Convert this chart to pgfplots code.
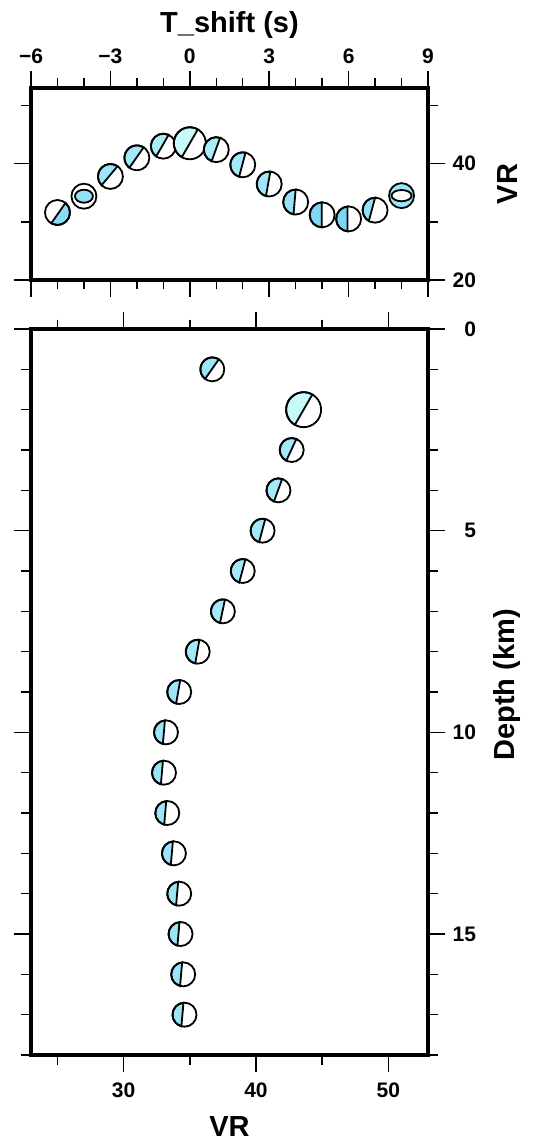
\documentclass[border=0pt]{standalone}
\usepackage{pgfplots}
\pgfplotsset{compat=1.18}
\usepackage{pgfplotstable}
\usepackage{fontspec}
\setmainfont{Liberation Sans}
\definecolor{bblight}{RGB}{200,250,252}
\definecolor{bbsat}{RGB}{110,208,244}

\pgfdeclareplotmark{bb}{%
  \pgfsetlinewidth{0.9pt}%
  \pgfsetstrokecolor{black}%
  \colorlet{bbfill}{bbsat!\bbc!bblight}%
  \pgfpathcircle{\pgfpointorigin}{\pgfplotmarksize}%
  \ifdim\bbt pt>1.5pt
    \pgfsetfillcolor{bbfill}%
  \else
    \pgfsetfillcolor{white}%
  \fi
  \pgfusepath{fill}%
  \ifdim\bbt pt<0.5pt
    \pgfmathsetmacro\bbs{\bbphi-\bbalpha}%
    \pgfmathsetmacro\bbe{\bbphi+\bbalpha}%
    \pgfpathmoveto{\pgfpointpolar{\bbs}{\pgfplotmarksize}}%
    \pgfpatharc{\bbs}{\bbe}{\pgfplotmarksize}%
    \pgfpathclose
    \pgfsetfillcolor{bbfill}%
    \pgfusepath{fill,stroke}%
  \else
    \ifdim\bbt pt<1.5pt
      \pgfsetfillcolor{bbfill}%
      \pgfpathellipse{\pgfpointorigin}{\pgfpoint{0.72\pgfplotmarksize}{0pt}}{\pgfpoint{0pt}{0.52\pgfplotmarksize}}%
      \pgfusepath{fill,stroke}%
    \else
      \pgfsetfillcolor{white}%
      \pgfpathellipse{\pgfpointorigin}{\pgfpoint{0.8\pgfplotmarksize}{0pt}}{\pgfpoint{0pt}{0.45\pgfplotmarksize}}%
      \pgfusepath{fill,stroke}%
    \fi
  \fi
  \pgfpathcircle{\pgfpointorigin}{\pgfplotmarksize}%
  \pgfusepath{stroke}%
}

% T_shift, VR, radius(pt), phi, alpha, colour, type
\pgfplotstableread{
x y r phi alpha c t
-5 31.6 6.25 -35 85 70 0
-4 34.4 6.25 0 90 60 1
-3 37.8 6.25 140 85 50 0
-2 41.0 6.25 145 88 40 0
-1 43.0 6.25 150 85 35 0
0 43.5 8.0 150 90 0 0
1 42.4 6.25 160 88 35 0
2 39.8 6.25 165 88 40 0
3 36.5 6.25 170 85 45 0
4 33.4 6.25 175 85 55 0
5 31.2 6.25 180 88 80 0
6 30.5 6.25 180 85 85 0
7 32.0 6.25 165 75 60 0
8 34.5 6.25 0 90 50 2
}\toptab

% VR, depth, radius(pt), phi, alpha, colour, type
\pgfplotstableread{
x y r phi alpha c t
36.7 1 6.0 145 88 50 0
43.6 2 8.75 150 90 0 0
42.7 3 6.0 155 88 40 0
41.7 4 6.0 160 88 40 0
40.5 5 6.0 165 88 40 0
39.0 6 6.0 165 88 40 0
37.5 7 6.0 168 88 40 0
35.6 8 6.0 170 88 40 0
34.2 9 6.0 170 85 45 0
33.2 10 6.0 175 80 50 0
33.05 11 6.0 175 80 50 0
33.3 12 6.0 175 80 50 0
33.8 13 6.0 175 80 50 0
34.2 14 6.0 175 80 50 0
34.3 15 6.0 175 80 50 0
34.5 16 6.0 175 80 50 0
34.6 17 6.0 175 80 50 0
}\bottab

\pgfplotsset{
  gmt/.style={
    scale only axis,
    width=198.5pt,
    tick align=outside,
    tick pos=both,
    major tick length=8.5pt,
    minor tick length=4.75pt,
    every tick/.style={black, line width=0.75pt},
    axis line style={line width=1.75pt},
    clip=false,
    /pgf/number format/assume math mode=true,
    every tick label/.append style={font=\fontsize{10.5}{12}\selectfont\bfseries},
    yticklabel style={anchor=east, xshift=19pt},
    label style={font=\fontsize{14.5}{17}\selectfont\bfseries},
  },
  bbplot/.style={
    scatter, only marks, mark=bb,
    visualization depends on={\thisrow{r} \as \bbr},
    visualization depends on={\thisrow{phi} \as \bbphi},
    visualization depends on={\thisrow{alpha} \as \bbalpha},
    visualization depends on={\thisrow{c} \as \bbc},
    visualization depends on={\thisrow{t} \as \bbt},
    scatter/@pre marker code/.append style={/tikz/mark size=\bbr},
  },
}

\begin{document}
\begin{tikzpicture}
\useasboundingbox (0,0) rectangle (272.5pt,-571.5pt);

\begin{axis}[gmt,
  at={(15.5pt,-44pt)}, anchor=north west,
  height=96pt,
  xmin=-6, xmax=9, ymin=20, ymax=53,
  xtick={-6,-3,0,3,6,9},
  xticklabels={−6,−3,0,3,6,9},
  minor xtick={-5,-4,-2,-1,1,2,4,5,7,8},
  ytick={20,40}, minor ytick={30,50},
  xticklabel pos=upper, yticklabel pos=right,
  xlabel={T\_shift (s)},
  xlabel style={at={(axis description cs:0.5,1.2865)}, anchor=base},
  ylabel={VR},
  ylabel style={at={(axis description cs:1.2242,0.5)}, anchor=base, rotate=0},
]
\addplot[bbplot] table[x=x,y=y] {\toptab};
\end{axis}

\begin{axis}[gmt,
  at={(15.5pt,-164.5pt)}, anchor=north west,
  height=363pt,
  xmin=23, xmax=53, ymin=0, ymax=18, y dir=reverse,
  xtick={30,40,50}, minor xtick={25,35,45},
  ytick={0,5,10,15}, minor ytick={1,2,3,4,6,7,8,9,11,12,13,14,16,17,18},
  xticklabel pos=lower, yticklabel pos=right,
  xticklabel style={yshift=-2pt},
  xlabel={VR},
  xlabel style={at={(axis description cs:0.5,-0.1129)}, anchor=base},
  ylabel={Depth (km)},
  ylabel style={at={(axis description cs:1.219,0.51)}, anchor=base, rotate=0},
]
\addplot[bbplot] table[x=x,y=y] {\bottab};
\end{axis}
\end{tikzpicture}
\end{document}
